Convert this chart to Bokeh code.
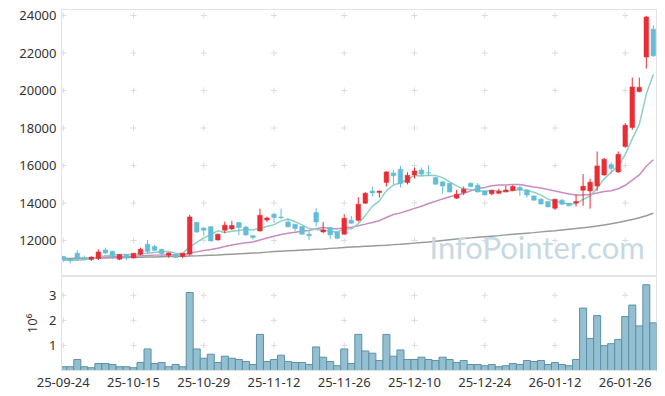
import pandas as pd
from bokeh.plotting import figure
from bokeh.models import Range1d, Label, FixedTicker, ColumnDataSource
from bokeh.layouts import column
from bokeh.embed import file_html
from bokeh.resources import INLINE

# ---- data ----
opens = [11150, 11000, 11320, 11080, 11000, 11040, 11500, 11430, 11000, 11230,
         11070, 11270, 11800, 11680, 11530, 11220, 11270, 11150, 11270, 12970,
         12670, 12740, 12030, 12550, 12620, 12960, 12720, 12260, 12510, 13090,
         13400, 13260, 12990, 12870, 12750, 12340, 13490, 12460, 12690, 12460,
         12340, 13080, 13080, 13990, 14640, 14560, 15100, 15600, 15800, 15090,
         15500, 15760, 15620, 15360, 15130, 15050, 14260, 14560, 15050, 14950,
         14640, 14490, 14520, 14600, 14670, 14830, 14700, 14380, 14200, 14080,
         13720, 14150, 13990, 14000, 14680, 14640, 14910, 15500, 16050, 15660,
         17010, 18030, 19950, 21790, 23270]
highs = [11180, 11020, 11480, 11200, 11150, 11530, 11620, 11450, 11280, 11260,
         11330, 11620, 12030, 11770, 11560, 11360, 11290, 11330, 13370, 12990,
         12700, 12760, 12360, 13010, 13050, 12990, 12780, 12300, 13700, 13280,
         13490, 13700, 13160, 12890, 12760, 12480, 13720, 12990, 12720, 12500,
         13400, 13310, 14310, 14580, 14880, 14660, 15700, 15770, 15980, 15640,
         15890, 15900, 16010, 15400, 15150, 15080, 14700, 14880, 15100, 15060,
         14660, 14700, 14760, 14910, 14960, 14930, 14720, 14410, 14260, 14100,
         14230, 14210, 14000, 14450, 15540, 15300, 16750, 16400, 16160, 16750,
         18260, 20690, 20690, 23980, 23480]
lows = [10860, 10780, 10910, 10980, 10910, 10960, 11300, 11000, 10950, 10960,
        11040, 11210, 11270, 11430, 11200, 11090, 11080, 11060, 11200, 12400,
        12250, 11950, 12000, 12390, 12560, 12290, 12250, 12060, 12480, 12980,
        12940, 13130, 12700, 12510, 12300, 12030, 12750, 12390, 12080, 12080,
        12300, 12900, 13000, 13950, 14346, 14290, 14880, 15000, 14830, 14990,
        15300, 15450, 15450, 14980, 14500, 14560, 14220, 14420, 14830, 14560,
        14400, 14410, 14470, 14580, 14620, 14380, 14290, 14120, 13910, 13770,
        13630, 13900, 13830, 13810, 13850, 13700, 14650, 15450, 15570, 15600,
        16950, 17900, 19900, 21170, 21800]
closes = [10970, 10920, 11040, 11040, 11120, 11390, 11330, 11210, 11250, 11070,
          11320, 11530, 11410, 11480, 11300, 11340, 11100, 11320, 13260, 12460,
          12550, 11980, 12340, 12820, 12800, 12700, 12300, 12160, 13350, 13200,
          13230, 13220, 12730, 12640, 12340, 12250, 12990, 12560, 12300, 12120,
          13190, 12920, 13940, 14520, 14540, 14640, 15660, 15450, 15040, 15480,
          15710, 15540, 15600, 15000, 14910, 14590, 14470, 14740, 14880, 14590,
          14430, 14680, 14630, 14700, 14880, 14700, 14430, 14150, 13950, 13790,
          14200, 13940, 13850, 14080, 14890, 15110, 15980, 16340, 15840, 16600,
          18150, 20190, 20180, 23920, 21850]
# long moving average (gray)
ma_long = [11040, 11045, 11050, 11055, 11060, 11065, 11070, 11075, 11080, 11090,
           11100, 11110, 11115, 11120, 11130, 11140, 11150, 11160, 11170, 11180,
           11200, 11215, 11230, 11250, 11270, 11290, 11310, 11330, 11350, 11380,
           11410, 11430, 11450, 11470, 11490, 11510, 11530, 11550, 11580, 11600,
           11630, 11650, 11670, 11690, 11710, 11730, 11750, 11780, 11800, 11830,
           11860, 11890, 11920, 11960, 12000, 12040, 12080, 12110, 12140, 12170,
           12200, 12230, 12260, 12300, 12330, 12360, 12390, 12420, 12460, 12490,
           12520, 12560, 12600, 12640, 12680, 12720, 12770, 12830, 12890, 12960,
           13040, 13120, 13210, 13320, 13450]
# volume in millions of shares
volume = [0.15, 0.15, 0.44, 0.15, 0.11, 0.28, 0.28, 0.24, 0.15, 0.15,
          0.11, 0.32, 0.86, 0.28, 0.32, 0.15, 0.24, 0.15, 3.11, 0.86,
          0.49, 0.65, 0.32, 0.57, 0.49, 0.44, 0.36, 0.24, 1.44, 0.36,
          0.44, 0.61, 0.36, 0.32, 0.32, 0.24, 0.94, 0.53, 0.36, 0.19,
          0.86, 0.28, 1.44, 0.78, 0.69, 0.40, 1.44, 0.57, 0.82, 0.44,
          0.44, 0.53, 0.44, 0.40, 0.53, 0.44, 0.32, 0.40, 0.24, 0.24,
          0.19, 0.24, 0.15, 0.19, 0.28, 0.24, 0.40, 0.36, 0.40, 0.24,
          0.32, 0.24, 0.19, 0.44, 2.49, 1.28, 2.19, 0.99, 1.07, 1.24,
          2.15, 2.61, 1.78, 3.42, 1.90]
tick_pos = [0, 10, 20, 30, 40, 50, 60, 70, 80]
tick_labels = ["25-09-24", "25-10-15", "25-10-29", "25-11-12", "25-11-26",
               "25-12-10", "25-12-24", "26-01-12", "26-01-26"]
price_ticks = [12000, 14000, 16000, 18000, 20000, 22000, 24000]
vol_ticks = [1, 2, 3]

UP = "#ea2c34"
DOWN = "#63bdd6"
FONT = "Noto Sans"
TXT = "#333333"
BORDER = "#e3e3e3"

df = pd.DataFrame({"o": opens, "h": highs, "l": lows, "c": closes,
                   "ma_long": ma_long, "vol": volume})
df["x"] = range(len(df))
df["top"] = df[["o", "c"]].max(axis=1)
df["bot"] = df[["o", "c"]].min(axis=1)
df["color"] = [UP if c >= o else DOWN for o, c in zip(df.o, df.c)]
df["ma5"] = df.c.rolling(5, min_periods=1).mean()
df["ma20"] = df.c.rolling(20, min_periods=1).mean()
src = ColumnDataSource(df)

xr = Range1d(-0.25, 84.45)

p = figure(width=657, height=276, x_range=xr, y_range=Range1d(10080, 24320),
           output_backend="svg", toolbar_location=None,
           min_border_left=61, min_border_right=1, min_border_top=9,
           min_border_bottom=0)
p.xaxis.visible = False
p.grid.visible = False
p.outline_line_color = BORDER
p.yaxis.ticker = FixedTicker(ticks=price_ticks)
p.yaxis.major_tick_line_color = None
p.yaxis.minor_tick_line_color = None
p.yaxis.major_tick_out = 0
p.yaxis.minor_tick_out = 0
p.yaxis.axis_line_color = BORDER
p.yaxis.major_label_text_font = FONT
p.yaxis.major_label_text_font_size = "13px"
p.yaxis.major_label_text_color = TXT
p.yaxis.major_label_standoff = 5

# grid crosses at tick intersections
gx = [x for x in tick_pos for _ in price_ticks]
gy = [y for _ in tick_pos for y in price_ticks]
p.scatter(gx, gy, marker="cross", size=6, line_color="#dcdcdc", line_width=1)

wm = Label(x=368, y=11, x_units="screen", y_units="screen", text="InfoPointer.com",
           text_font="Lato", text_font_size="31px", text_color="#c6d9e4")
p.add_layout(wm)

p.line("x", "ma_long", source=src, line_color="#9a9a9a", line_width=1.5)
p.line("x", "ma20", source=src, line_color="#c88cc4", line_width=1.5)
p.line("x", "ma5", source=src, line_color="#8ecfc3", line_width=1.5)

p.segment("x", "l", "x", "h", source=src, line_color="color", line_width=1)
p.vbar(x="x", width=0.66, top="top", bottom="bot", source=src,
       fill_color="color", line_color="color", line_width=0.5)

v = figure(width=657, height=113, x_range=xr, y_range=Range1d(0, 3.75),
           output_backend="svg", toolbar_location=None,
           min_border_left=61, min_border_right=1, min_border_top=0,
           min_border_bottom=0)
v.grid.visible = False
v.outline_line_color = BORDER
v.yaxis.ticker = FixedTicker(ticks=vol_ticks)
v.xaxis.ticker = FixedTicker(ticks=tick_pos)
v.xaxis.major_label_overrides = {t: l for t, l in zip(tick_pos, tick_labels)}
for ax in (v.xaxis, v.yaxis):
    ax.major_tick_line_color = None
    ax.minor_tick_line_color = None
    ax.major_tick_out = 0
    ax.minor_tick_out = 0
    ax.axis_line_color = BORDER
    ax.major_label_text_font = FONT
    ax.major_label_text_font_size = "13px"
    ax.major_label_text_color = TXT
v.yaxis.major_label_standoff = 5
v.xaxis.major_label_standoff = 7
v.yaxis.axis_label = "10\u2076"
v.yaxis.axis_label_text_font = FONT
v.yaxis.axis_label_text_font_size = "13px"
v.yaxis.axis_label_text_font_style = "normal"
v.yaxis.axis_label_text_color = TXT
v.yaxis.axis_label_standoff = 5

vgx = [x for x in tick_pos for _ in vol_ticks]
vgy = [y for _ in tick_pos for y in vol_ticks]
v.scatter(vgx, vgy, marker="cross", size=6, line_color="#dcdcdc", line_width=1)

v.vbar(x="x", width=1.0, top="vol", bottom=0, source=src,
       fill_color="#94bfd0", line_color="#5d90aa", line_width=1)

layout = column(p, v, spacing=0)
open("out.html", "w").write(file_html(layout, INLINE))
